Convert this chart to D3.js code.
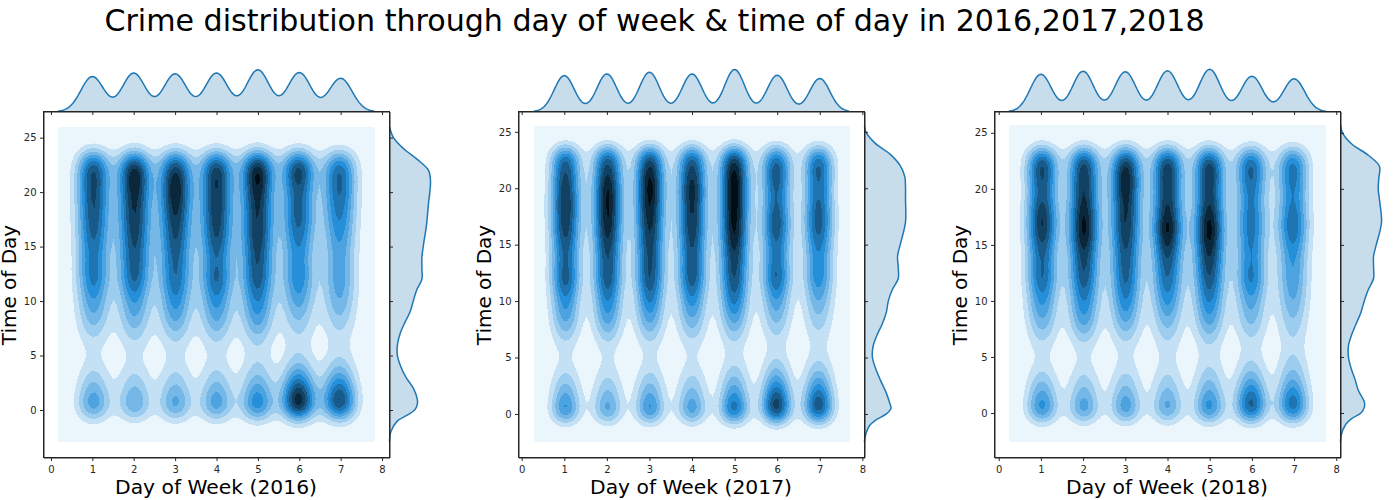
<!DOCTYPE html>
<html>
<head>
<meta charset="utf-8">
<script src="https://cdnjs.cloudflare.com/ajax/libs/d3/7.8.5/d3.min.js"></script>
<style>
  html, body { margin: 0; padding: 0; background: #fff; }
  text { font-family: "DejaVu Sans", sans-serif; fill: #000; }
  .tick text { font-size: 10px; fill: #262626; }
  .tick line, .domain { stroke: #262626; }
</style>
</head>
<body>
<svg id="canvas" width="1399" height="500"></svg>
<script>
var years = [2016, 2017, 2018];
var days = [1, 2, 3, 4, 5, 6, 7];
var xTicks = [0, 1, 2, 3, 4, 5, 6, 7, 8];
var yTicks = [0, 5, 10, 15, 20, 25];
var title = 'Crime distribution through day of week & time of day in 2016,2017,2018';

// hourly weight per day (rows, hour 0 to 23)
var weights2016 = [
  [6.6, 4.6, 3.4, 2.5, 1.3, 0.9, 1.2, 2.3, 3.3, 4.2, 4.8, 5.5, 7.0, 6.5, 6.2, 6.6, 7.3, 7.6, 7.9, 8.1, 8.3, 8.3, 8.6, 8.3],
  [5.7, 4.0, 3.0, 2.2, 1.2, 0.9, 1.5, 2.6, 3.6, 4.4, 5.0, 6.0, 7.8, 7.6, 7.6, 8.0, 8.5, 8.8, 9.0, 9.2, 9.4, 10.4, 10.5, 9.0],
  [6.2, 4.2, 3.2, 2.3, 1.3, 1.0, 1.5, 2.8, 4.0, 4.9, 5.6, 6.3, 7.3, 7.0, 7.2, 7.7, 8.2, 8.6, 9.0, 9.6, 10.4, 10.0, 9.2, 8.6],
  [6.6, 4.6, 3.4, 2.5, 1.4, 1.0, 1.5, 2.8, 4.0, 4.8, 5.5, 6.4, 7.9, 6.9, 6.6, 7.4, 8.3, 8.6, 8.8, 8.9, 9.0, 9.1, 9.4, 8.6],
  [8.2, 5.7, 4.3, 3.1, 2.0, 1.3, 1.7, 3.1, 4.5, 5.3, 6.0, 6.9, 8.0, 8.0, 8.0, 8.5, 9.0, 9.0, 9.0, 9.2, 9.4, 10.4, 10.9, 9.8],
  [12.4, 10.5, 8.1, 5.2, 3.0, 1.8, 1.2, 1.9, 2.8, 3.7, 4.5, 5.2, 6.3, 5.8, 5.4, 5.9, 6.6, 7.2, 7.8, 7.4, 7.0, 8.3, 9.5, 8.7],
  [10.4, 8.8, 6.8, 4.4, 2.6, 1.5, 1.1, 1.7, 2.5, 3.3, 4.0, 4.4, 4.8, 4.6, 4.4, 4.8, 5.2, 5.8, 6.3, 6.7, 7.2, 7.4, 7.4, 6.9]
];
var weights2017 = [
  [6.9, 4.9, 3.7, 2.6, 1.3, 1.0, 1.3, 2.6, 4.0, 4.9, 5.5, 6.6, 8.2, 7.2, 7.0, 7.6, 8.3, 9.0, 9.1, 9.1, 9.0, 8.4, 7.6, 7.8],
  [5.7, 4.0, 3.0, 2.1, 1.2, 1.0, 1.3, 2.8, 4.2, 5.2, 6.0, 6.9, 8.2, 7.9, 7.9, 8.6, 9.4, 10.0, 10.2, 10.3, 10.3, 9.4, 8.2, 8.3],
  [6.9, 4.9, 3.7, 2.6, 1.4, 1.0, 1.3, 2.7, 4.0, 5.2, 6.2, 7.1, 8.4, 8.2, 8.2, 8.5, 9.0, 9.4, 9.8, 10.3, 10.6, 10.4, 9.0, 8.7],
  [6.2, 4.2, 3.2, 2.3, 1.3, 0.9, 1.2, 2.4, 3.5, 4.6, 5.5, 6.6, 8.2, 7.8, 7.6, 8.1, 8.8, 9.0, 9.1, 9.3, 9.9, 9.0, 8.2, 8.0],
  [8.7, 6.1, 4.6, 3.3, 2.0, 1.3, 1.3, 2.7, 4.0, 5.3, 6.5, 7.3, 8.2, 8.4, 8.6, 9.4, 10.2, 10.4, 10.6, 10.7, 10.8, 10.8, 9.9, 9.2],
  [10.4, 8.8, 6.8, 4.4, 2.8, 1.6, 1.1, 2.0, 3.0, 3.9, 4.8, 5.9, 7.8, 6.8, 6.4, 6.6, 7.6, 8.2, 7.4, 6.9, 7.0, 7.9, 7.8, 7.1],
  [9.5, 8.0, 6.2, 4.0, 2.6, 1.5, 1.1, 1.7, 2.4, 3.2, 4.0, 4.8, 6.0, 5.8, 5.7, 6.3, 7.2, 7.9, 7.6, 7.0, 6.7, 7.2, 7.6, 6.9]
];
var weights2018 = [
  [7.3, 5.1, 3.9, 2.7, 1.3, 1.0, 1.4, 2.6, 3.7, 4.6, 5.3, 6.2, 7.6, 7.0, 7.0, 7.7, 8.8, 9.6, 8.8, 7.8, 7.3, 8.2, 8.8, 8.0],
  [6.2, 4.2, 3.2, 2.3, 1.2, 1.0, 1.4, 2.9, 4.5, 5.3, 6.0, 6.8, 8.0, 8.1, 8.4, 9.3, 10.4, 10.6, 9.8, 9.1, 8.9, 9.0, 8.8, 8.3],
  [6.4, 4.4, 3.3, 2.4, 1.4, 1.0, 1.4, 2.7, 4.0, 5.0, 6.0, 6.6, 7.5, 7.5, 7.7, 8.2, 8.8, 9.2, 9.1, 9.2, 10.0, 10.3, 9.4, 8.6],
  [5.8, 4.0, 3.1, 2.2, 1.4, 1.1, 1.5, 2.5, 3.4, 4.4, 5.5, 6.2, 7.2, 7.3, 8.0, 9.2, 10.4, 10.6, 9.2, 8.8, 8.7, 9.0, 9.2, 8.3],
  [7.3, 5.1, 3.9, 2.8, 1.9, 1.3, 1.6, 3.0, 4.3, 5.3, 6.2, 7.0, 8.0, 8.4, 9.0, 9.8, 10.6, 10.6, 9.4, 8.7, 8.3, 9.0, 9.2, 8.0],
  [9.0, 7.6, 5.9, 3.8, 2.4, 1.5, 1.2, 2.2, 3.2, 3.9, 4.5, 5.5, 6.8, 6.0, 5.9, 6.1, 6.5, 6.6, 6.4, 6.2, 6.2, 7.3, 7.7, 6.9],
  [8.2, 6.9, 5.4, 3.6, 2.8, 1.9, 1.5, 2.1, 2.7, 3.4, 4.0, 4.5, 4.9, 5.0, 5.1, 5.8, 6.9, 7.4, 6.5, 5.9, 6.0, 6.6, 6.9, 6.2]
];

// top marginal, density peak per day
var dayPeaks2016 = [0.183, 0.201, 0.197, 0.201, 0.218, 0.204, 0.174];
var dayPeaks2017 = [0.188, 0.197, 0.206, 0.197, 0.220, 0.190, 0.173];
var dayPeaks2018 = [0.195, 0.211, 0.208, 0.213, 0.221, 0.185, 0.171];

// right marginal, percent of crimes per hour
var marginHours = [-2, -1, -0.5, 0, 0.5, 1, 2, 3, 4, 5, 6, 7, 8, 9, 10, 11, 12, 13, 14, 15, 17, 19, 20, 21, 22, 23, 24, 25];
var marginShare2016 = [0.2, 1.2, 2.6, 3.8, 4.2, 4.2, 3.6, 2.5, 1.7, 1.2, 1.2, 1.6, 2.3, 3.1, 3.6, 4.1, 4.9, 4.9, 4.9, 5.1, 5.6, 5.9, 6.1, 6.2, 5.9, 4.2, 2.1, 0.6];
var marginShare2017 = [0.1, 0.8, 1.8, 3.3, 4.0, 3.8, 3.2, 2.4, 1.7, 1.2, 1.3, 1.9, 2.7, 3.3, 3.6, 4.2, 5.1, 5.1, 5.0, 5.4, 6.2, 6.2, 6.2, 6.1, 5.4, 3.9, 1.6, 0.2];
var marginShare2018 = [0.1, 0.8, 1.7, 3.1, 3.6, 3.6, 2.7, 2.2, 1.6, 1.2, 1.2, 1.7, 2.4, 3.1, 3.6, 4.2, 5.0, 5.0, 5.0, 5.4, 6.2, 5.9, 5.7, 5.8, 5.9, 4.2, 1.7, 0.3];

// kde settings seen in the picture
var bandX = [0.277, 0.237, 0.253];
var bandY = [0.97, 0.83, 0.87];
var kdeXExtent = [[0.17, 7.83], [0.29, 7.71], [0.24, 7.76]];
var kdeYExtent = [[-2.9, 26.0], [-2.5, 25.5], [-2.6, 25.7]];
var xDomains = [[-0.18, 8.18], [-0.075, 8.05], [-0.1, 8.1]];
var yDomains = [[-4.36, 27.4], [-3.86, 26.8], [-3.97, 26.9]];

var allWeights = [weights2016, weights2017, weights2018];
var allDayPeaks = [dayPeaks2016, dayPeaks2017, dayPeaks2018];
var allShares = [marginShare2016, marginShare2017, marginShare2018];

var panelLeft = [43.5, 518.5, 994.5];
var panelWidth = 346;
var panelTop = 111.5;
var panelBottom = 457.5;
var gridSize = 100;
var nLayers = 11;
var lineBlue = '#1f77b4';

var svg = d3.select('#canvas');

svg.append('text')
  .attr('x', 654.5).attr('y', 31)
  .attr('text-anchor', 'middle')
  .style('font-size', '30.1px')
  .text(title);

function gauss(d, s) {
  return Math.exp(-0.5 * d * d / (s * s));
}

// field in band units: 1 = edge of first band above the background
function buildField(k) {
  var weights = allWeights[k];
  var gx = d3.scaleLinear().domain([0, gridSize - 1]).range(kdeXExtent[k]);
  var gy = d3.scaleLinear().domain([0, gridSize - 1]).range(kdeYExtent[k]);
  var norm = bandY[k] * Math.sqrt(2 * Math.PI);
  var values = new Array(gridSize * gridSize);
  for (var j = 0; j < gridSize; j++) {
    for (var i = 0; i < gridSize; i++) {
      var sum = 0;
      for (var d = 0; d < days.length; d++) {
        var col = 0;
        for (var h = 0; h < 24; h++) {
          col += weights[d][h] * gauss(gy(j) - h, bandY[k]);
        }
        sum += col * gauss(gx(i) - days[d], bandX[k]);
      }
      values[j * gridSize + i] = sum / norm;
    }
  }
  return values;
}

function layerColor(i) {
  var c = d3.hsl(205, 0.707, 1 - (i + 0.5) / nLayers);
  return c.formatHex();
}

function drawPanel(k) {
  var left = panelLeft[k];
  var right = left + panelWidth;
  var x = d3.scaleLinear().domain(xDomains[k]).range([left, right]);
  var y = d3.scaleLinear().domain(yDomains[k]).range([panelBottom, panelTop]);
  var g = svg.append('g');

  // --- joint kde ---
  var cellX = d3.scaleLinear().domain([0, gridSize]).range(kdeXExtent[k]);
  var cellY = d3.scaleLinear().domain([0, gridSize]).range(kdeYExtent[k]);
  var path = d3.geoPath(d3.geoTransform({
    point: function(px, py) {
      this.stream.point(x(cellX(px)), y(cellY(py)));
    }
  }));
  var thresholds = [-1].concat(d3.range(1, nLayers));
  var contours = d3.contours()
    .size([gridSize, gridSize])
    .thresholds(thresholds)(buildField(k));

  g.selectAll('path.band')
    .data(contours)
    .enter().append('path')
    .attr('class', 'band')
    .attr('d', path)
    .attr('fill', function(d, i) { return layerColor(i); })
    .attr('shape-rendering', 'crispEdges')
    .attr('stroke', 'none');

  // --- top marginal ---
  var peaks = allDayPeaks[k];
  var topY = d3.scaleLinear().domain([0, 0.22]).range([panelTop, 69.5]);
  var xs = d3.range(kdeXExtent[k][0], kdeXExtent[k][1] + 0.001, 0.04);
  var topData = xs.map(function(v) {
    return [v, d3.sum(days, function(day, d) { return peaks[d] * gauss(v - day, bandX[k]); })];
  });
  var topArea = d3.area()
    .x(function(d) { return x(d[0]); })
    .y0(panelTop)
    .y1(function(d) { return topY(d[1]); });
  var topLine = d3.line()
    .x(function(d) { return x(d[0]); })
    .y(function(d) { return topY(d[1]); });
  g.append('path').attr('d', topArea(topData)).attr('fill', lineBlue).attr('fill-opacity', 0.25);
  g.append('path').attr('d', topLine(topData)).attr('fill', 'none').attr('stroke', lineBlue).attr('stroke-width', 1.5);

  // --- right marginal ---
  var rightX = d3.scaleLinear().domain([0, 6.2]).range([right, right + 41]);
  var hours = [kdeYExtent[k][0]].concat(marginHours, [kdeYExtent[k][1]]);
  var shares = [0].concat(allShares[k], [0]);
  var rightData = hours.map(function(h, i) { return [h, shares[i]]; });
  var rightArea = d3.area()
    .curve(d3.curveCatmullRom)
    .y(function(d) { return y(d[0]); })
    .x0(right)
    .x1(function(d) { return rightX(d[1]); });
  var rightLine = d3.line()
    .curve(d3.curveCatmullRom)
    .y(function(d) { return y(d[0]); })
    .x(function(d) { return rightX(d[1]); });
  g.append('path').attr('d', rightArea(rightData)).attr('fill', lineBlue).attr('fill-opacity', 0.25);
  g.append('path').attr('d', rightLine(rightData)).attr('fill', 'none').attr('stroke', lineBlue).attr('stroke-width', 1.5);

  // --- frame and axes ---
  g.append('rect')
    .attr('x', left).attr('y', panelTop)
    .attr('width', panelWidth).attr('height', panelBottom - panelTop)
    .attr('fill', 'none').attr('stroke', '#262626').attr('stroke-width', 1);

  g.append('g').attr('transform', 'translate(0,' + panelBottom + ')')
    .call(d3.axisBottom(x).tickValues(xTicks).tickSizeInner(3.5).tickSizeOuter(0).tickPadding(5).tickFormat(d3.format('d')));
  g.append('g').attr('transform', 'translate(' + left + ',0)')
    .call(d3.axisLeft(y).tickValues(yTicks).tickSizeInner(3.5).tickSizeOuter(0).tickPadding(3.5).tickFormat(d3.format('d')));
  // marginal axes leave their ticks on the frame, no labels
  g.append('g').attr('transform', 'translate(0,' + panelTop + ')')
    .call(d3.axisBottom(x).tickValues(xTicks).tickSizeInner(3.5).tickSizeOuter(0).tickFormat(''));
  g.append('g').attr('transform', 'translate(' + right + ',0)')
    .call(d3.axisRight(y).tickValues(yTicks).tickSizeInner(3.5).tickSizeOuter(0).tickFormat(''));

  g.append('text')
    .attr('x', left + panelWidth / 2 - 0.5).attr('y', 494)
    .attr('text-anchor', 'middle')
    .style('font-size', '20.3px')
    .text('Day of Week (' + years[k] + ')');
  g.append('text')
    .attr('transform', 'translate(' + (left - 28) + ',285) rotate(-90)')
    .attr('text-anchor', 'middle')
    .style('font-size', '20px')
    .text('Time of Day');
}

for (var k = 0; k < years.length; k++) {
  drawPanel(k);
}
</script>
</body>
</html>
